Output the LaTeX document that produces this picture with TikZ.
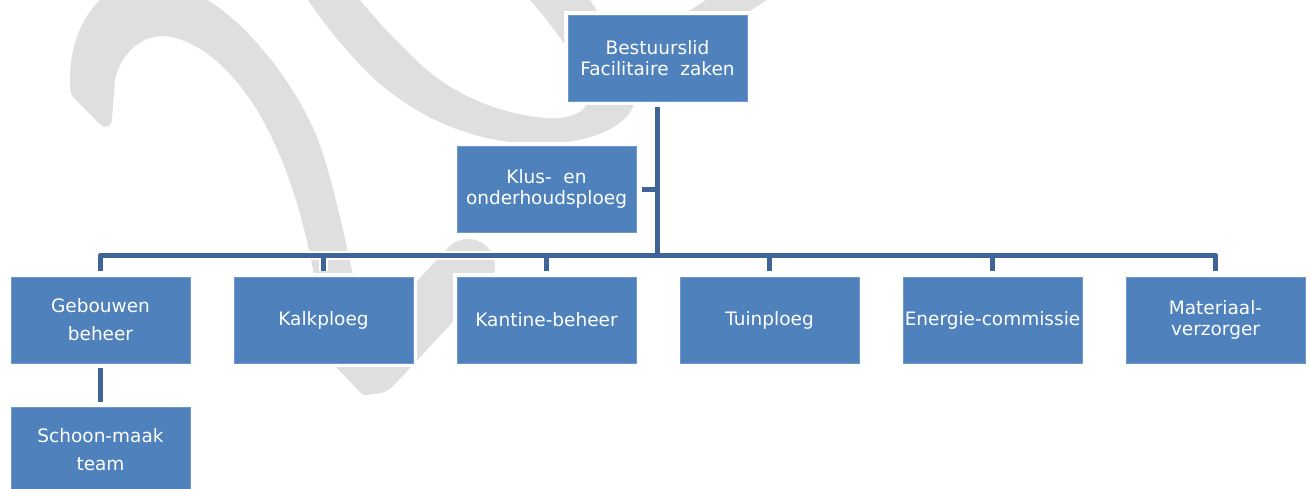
\documentclass[tikz,border=0pt]{standalone}
\usepackage{fontspec}
\setmainfont{DejaVu Sans}

\definecolor{boxblue}{HTML}{4F81BD}
\definecolor{boxedge}{HTML}{6E97CC}
\definecolor{linkblue}{HTML}{3F6598}
\definecolor{markgray}{HTML}{DFDFDF}

\tikzset{
  orgbox/.style={rectangle, fill=boxblue, draw=boxedge, line width=0.8pt,
    minimum width=179pt, minimum height=86pt, inner sep=0pt, align=center,
    text=white, font=\fontsize{18.5}{21}\selectfont,
    preaction={draw=white, line width=8pt}},
  widelines/.style={font=\fontsize{18.5}{28}\selectfont},
  link/.style={draw=linkblue, line width=5pt, line join=round,
    preaction={draw=white, line width=9pt}},
}

\begin{document}
\begin{tikzpicture}[x=1pt, y=-1pt]
\useasboundingbox (0,0) rectangle (1310,488);
\clip (0,0) rectangle (1310,488);
\fill[white] (0,0) rectangle (1310,488);

% background logo
\fill[markgray]
  (112,118) .. controls (112,128) and (104,129) .. (100,124)
  -- (73,97) .. controls (70,93) and (70,88) .. (70,80)
  .. controls (70,40) and (85,15) .. (100,0) -- (100,-10) -- (207,-10) -- (207,0)
  .. controls (250,25) and (300,90) .. (320,145)
  .. controls (335,190) and (345,240) .. (352,270)
  -- (372,350) -- (380,385) .. controls (378,393) and (368,397) .. (362,394)
  -- (337,368) -- (313,270)
  .. controls (300,200) and (280,150) .. (260,115)
  .. controls (230,65) and (195,38) .. (163,36)
  .. controls (140,36) and (120,55) .. (115,80) -- cycle;
\draw[markgray, line width=54pt, line cap=round] (374,367) -- (468,266);
\fill[markgray]
  (308,-5) -- (308,0) .. controls (325,25) and (345,50) .. (370,75)
  .. controls (410,112) and (460,138) .. (520,143)
  .. controls (570,147) and (620,135) .. (633,107)
  .. controls (640,80) and (610,30) .. (590,0) -- (590,-5) -- (530,-5) -- (530,0)
  .. controls (555,28) and (585,70) .. (588,95)
  .. controls (590,112) and (570,120) .. (545,118)
  .. controls (500,114) and (450,95) .. (413,57)
  .. controls (390,35) and (372,15) .. (360,0) -- (360,-5) -- cycle;
\fill[markgray] (672,22) -- (712,-4) -- (773,-4) -- (733,22) -- cycle;

% boxes
\node[orgbox] (top) at (657.5,58) {Bestuurslid\\Facilitaire\ \ zaken};
\node[orgbox] (klus) at (546.5,189) {Klus-\ \ en\\onderhoudsploeg};
\node[orgbox, widelines] (geb) at (100.5,320) {Gebouwen\\beheer};
\node[orgbox] (kalk) at (323.5,320) {Kalkploeg};
\node[orgbox] (kant) at (546.5,320) {Kantine-beheer};
\node[orgbox] (tuin) at (769.5,320) {Tuinploeg};
\node[orgbox] (energ) at (992.5,320) {Energie-commissie};
\node[orgbox] (mat) at (1215.5,320) {Materiaal-\\verzorger};
\node[orgbox, widelines] (schoon) at (100.5,450) {Schoon-maak\\team};

\coordinate (hub) at (657.5,255);

% connectors
\path[link]
  ([yshift=-6pt]top.south) -- ([yshift=-2pt]hub)
  ([xshift=6pt]klus.east) -- (klus.east -| hub)
  ([yshift=6pt]geb.north) -- (geb.north |- hub) -- (mat.north |- hub) -- ([yshift=6pt]mat.north)
  ([yshift=6pt]kalk.north) -- (kalk.north |- hub)
  ([yshift=6pt]kant.north) -- (kant.north |- hub)
  ([yshift=6pt]tuin.north) -- (tuin.north |- hub)
  ([yshift=6pt]energ.north) -- (energ.north |- hub)
  ([yshift=-5pt]geb.south) -- ([yshift=5pt]schoon.north);
\end{tikzpicture}
\end{document}
